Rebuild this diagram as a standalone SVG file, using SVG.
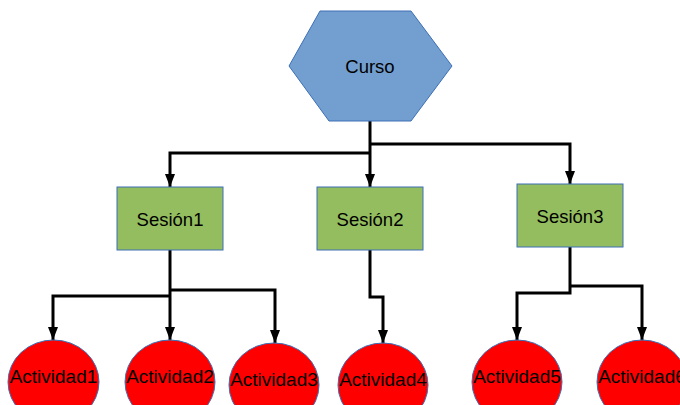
<svg xmlns="http://www.w3.org/2000/svg" width="680" height="405" viewBox="0 0 680 405">
<defs>
<marker id="arr" markerUnits="userSpaceOnUse" markerWidth="12" markerHeight="14" refX="5" refY="13" orient="0" viewBox="0 0 10 14">
<path d="M0,0 L10,0 L5,13 Z" fill="#000"/>
</marker>
<style>
.t{font-family:"Liberation Sans",Arial,sans-serif;fill:#000;text-anchor:middle}
.ses{fill:#93bd5e;stroke:#3c6fb6;stroke-width:1}
.act{fill:#ff0000;stroke:#3c6fb6;stroke-width:1}
.c{fill:none;stroke:#000;stroke-width:3;stroke-linejoin:miter}
.ca{fill:none;stroke:#000;stroke-width:3;marker-end:url(#arr)}
</style>
</defs>
<rect width="680" height="405" fill="#fff"/>
<g id="connectors">
<path class="ca" d="M370,121 V187"/>
<path class="ca" d="M370,153 H170 V187"/>
<path class="ca" d="M370,144 H570 V184"/>
<path class="ca" d="M170,250 V340"/>
<path class="ca" d="M170,296 H53 V340"/>
<path class="ca" d="M170,290 H275 V343"/>
<path class="ca" d="M370,250 V297 H383 V343"/>
<path class="ca" d="M570,247 V293 H517 V340"/>
<path class="ca" d="M570,286 H642 V340"/>
</g>
<g id="curso">
<polygon points="320,11 411,11 452,66 411,121 329,121 289,66" fill="#729fcf" stroke="#3c6fb6" stroke-width="1"/>
<text class="t" x="370" y="73" font-size="18.5">Curso</text>
</g>
<g id="sesion1">
<rect class="ses" x="117" y="187" width="106" height="63"/>
<text class="t" x="170" y="226" font-size="18.5">Sesión1</text>
</g>
<g id="sesion2">
<rect class="ses" x="317" y="187" width="106" height="63"/>
<text class="t" x="370" y="226" font-size="18.5">Sesión2</text>
</g>
<g id="sesion3">
<rect class="ses" x="517" y="184" width="106" height="63"/>
<text class="t" x="570" y="223" font-size="18.5">Sesión3</text>
</g>
<g id="actividad1">
<ellipse class="act" cx="53.5" cy="382" rx="45.5" ry="42"/>
<text class="t" x="53.5" y="383" font-size="19">Actividad1</text>
</g>
<g id="actividad2">
<ellipse class="act" cx="170" cy="382" rx="45" ry="42"/>
<text class="t" x="170" y="383" font-size="19">Actividad2</text>
</g>
<g id="actividad3">
<ellipse class="act" cx="274" cy="385" rx="45" ry="42"/>
<text class="t" x="274" y="386" font-size="19">Actividad3</text>
</g>
<g id="actividad4">
<ellipse class="act" cx="383" cy="385" rx="45" ry="42"/>
<text class="t" x="383" y="386" font-size="19">Actividad4</text>
</g>
<g id="actividad5">
<ellipse class="act" cx="517" cy="382" rx="45" ry="42"/>
<text class="t" x="517" y="383" font-size="19">Actividad5</text>
</g>
<g id="actividad6">
<ellipse class="act" cx="642" cy="382" rx="45" ry="42"/>
<text class="t" x="642" y="383" font-size="19">Actividad6</text>
</g>
</svg>
